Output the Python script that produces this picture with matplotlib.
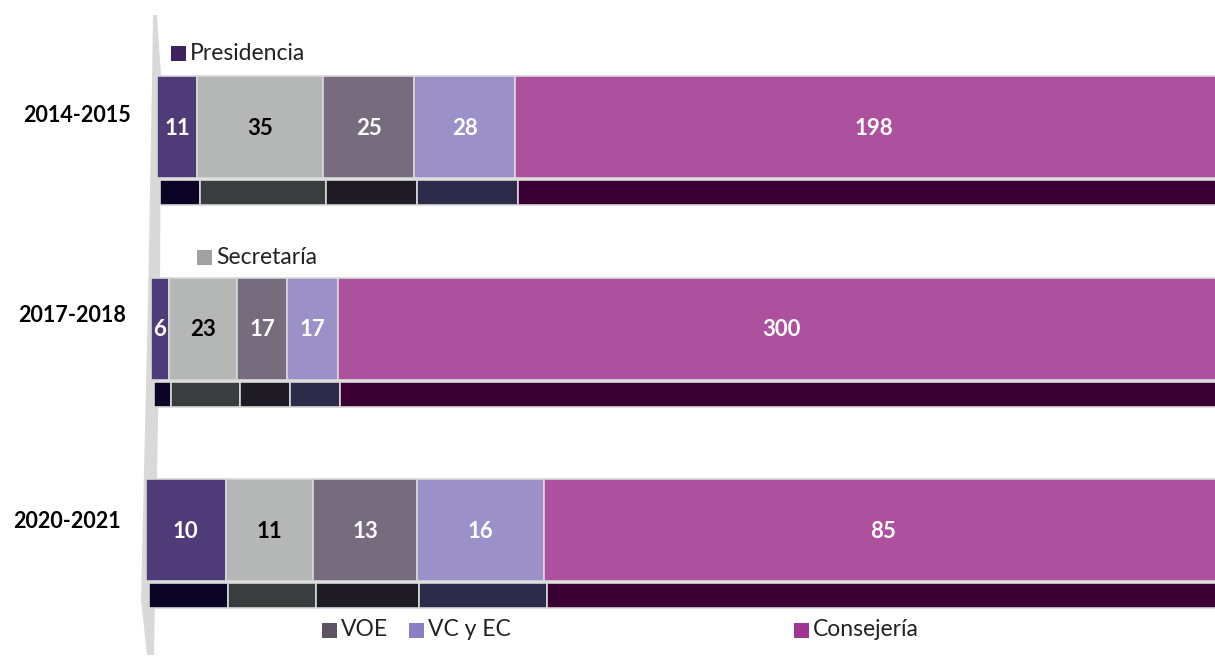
import numpy as np
import matplotlib
matplotlib.use("Agg")
import matplotlib.pyplot as plt
from matplotlib.patches import Rectangle, Polygon

# ---- data ----
periods = ["2014-2015", "2017-2018", "2020-2021"]
series = ["Presidencia", "Secretaría", "VOE", "VC y EC", "Consejería"]
presidencia = [11, 6, 10]
secretaria = [35, 23, 11]
voe = [25, 17, 13]
vcyec = [28, 17, 16]
consejeria = [198, 300, 85]

# ---- style ----
front_colors = ["#4f3b78", "#b5b6b6", "#776b7e", "#9b90c8", "#ad519e"]
depth_colors = ["#0b0424", "#3a3d3e", "#1f1b24", "#2c2c4a", "#3a0033"]
legend_colors = ["#3d2461", "#a0a2a2", "#5f5366", "#8a7fc3", "#a03591"]
label_colors = ["white", "black", "white", "white", "white"]

W, H = 1215, 659
fig = plt.figure(figsize=(W / 100, H / 100), dpi=100)
fig.patch.set_facecolor("white")

# background axes in pixel coordinates for decorations
bg = fig.add_axes([0, 0, 1, 1])
bg.set_xlim(0, W)
bg.set_ylim(H, 0)
bg.axis("off")

# left wall (3D perspective sliver)
wall = Polygon([(153, 15), (157, 15), (161, 75), (160, 300), (154, 655),
                (147, 655), (141, 600), (148, 300), (152, 80)],
               closed=True, facecolor="#d9d9d9", edgecolor="none", zorder=0)
bg.add_patch(wall)

# main axes: x in percent, y in row units
ax_left_px = 146
px_per_pct = 10.75
ax = fig.add_axes([ax_left_px / W, 0, (W - ax_left_px) / W, 1])
ax.set_xlim(0, (W - ax_left_px) / px_per_pct)
row_px = 201.5
center0 = 127.0
ax.set_ylim((H - center0) / row_px, -center0 / row_px)
ax.axis("off")
ax.patch.set_alpha(0)

data = np.array([presidencia, secretaria, voe, vcyec, consejeria], dtype=float)
totals = data.sum(axis=0)
pct = data / totals * 100
row_offsets = [11 / px_per_pct, 5 / px_per_pct, 0.0]  # perspective shift

ypos = np.arange(len(periods))
front_h = 102 / row_px
depth_top = 53 / row_px
depth_h = 25 / row_px

for i in range(len(periods)):
    left = row_offsets[i]
    for j in range(len(series)):
        w = pct[j, i]
        ax.barh(ypos[i], w, left=left, height=front_h, color=front_colors[j],
                edgecolor="#d8d8d8", linewidth=1.2, zorder=2)
        ax.barh(ypos[i] + depth_top + depth_h / 2, w, left=left + 0.25,
                height=depth_h, color=depth_colors[j],
                edgecolor="#d8d8d8", linewidth=1.2, zorder=2)
        ax.text(left + w / 2, ypos[i] + 0.005, f"{int(data[j, i])}", ha="center",
                va="center", fontsize=16, fontweight="bold",
                color=label_colors[j], family="Lato", zorder=3)
        left += w

# period labels
label_right_px = [131, 126, 121]
label_y_px = [115, 315, 521]
for i, p in enumerate(periods):
    bg.text(label_right_px[i], label_y_px[i], p, ha="right", va="center",
            fontsize=15.5, fontweight="bold", family="Lato", color="black")

# scattered legend entries
legend_pos = [(171, 53), (197, 257), (322, 630), (409, 630), (794, 630)]
for (x, y), name, c in zip(legend_pos, series, legend_colors):
    bg.add_patch(Rectangle((x, y - 7.5), 15, 15, facecolor=c, edgecolor="none"))
    bg.text(x + 19, y, name, ha="left", va="center", fontsize=16.5,
            family="Lato", color="#222222")

fig.savefig("out.png", dpi=100, facecolor="white")
